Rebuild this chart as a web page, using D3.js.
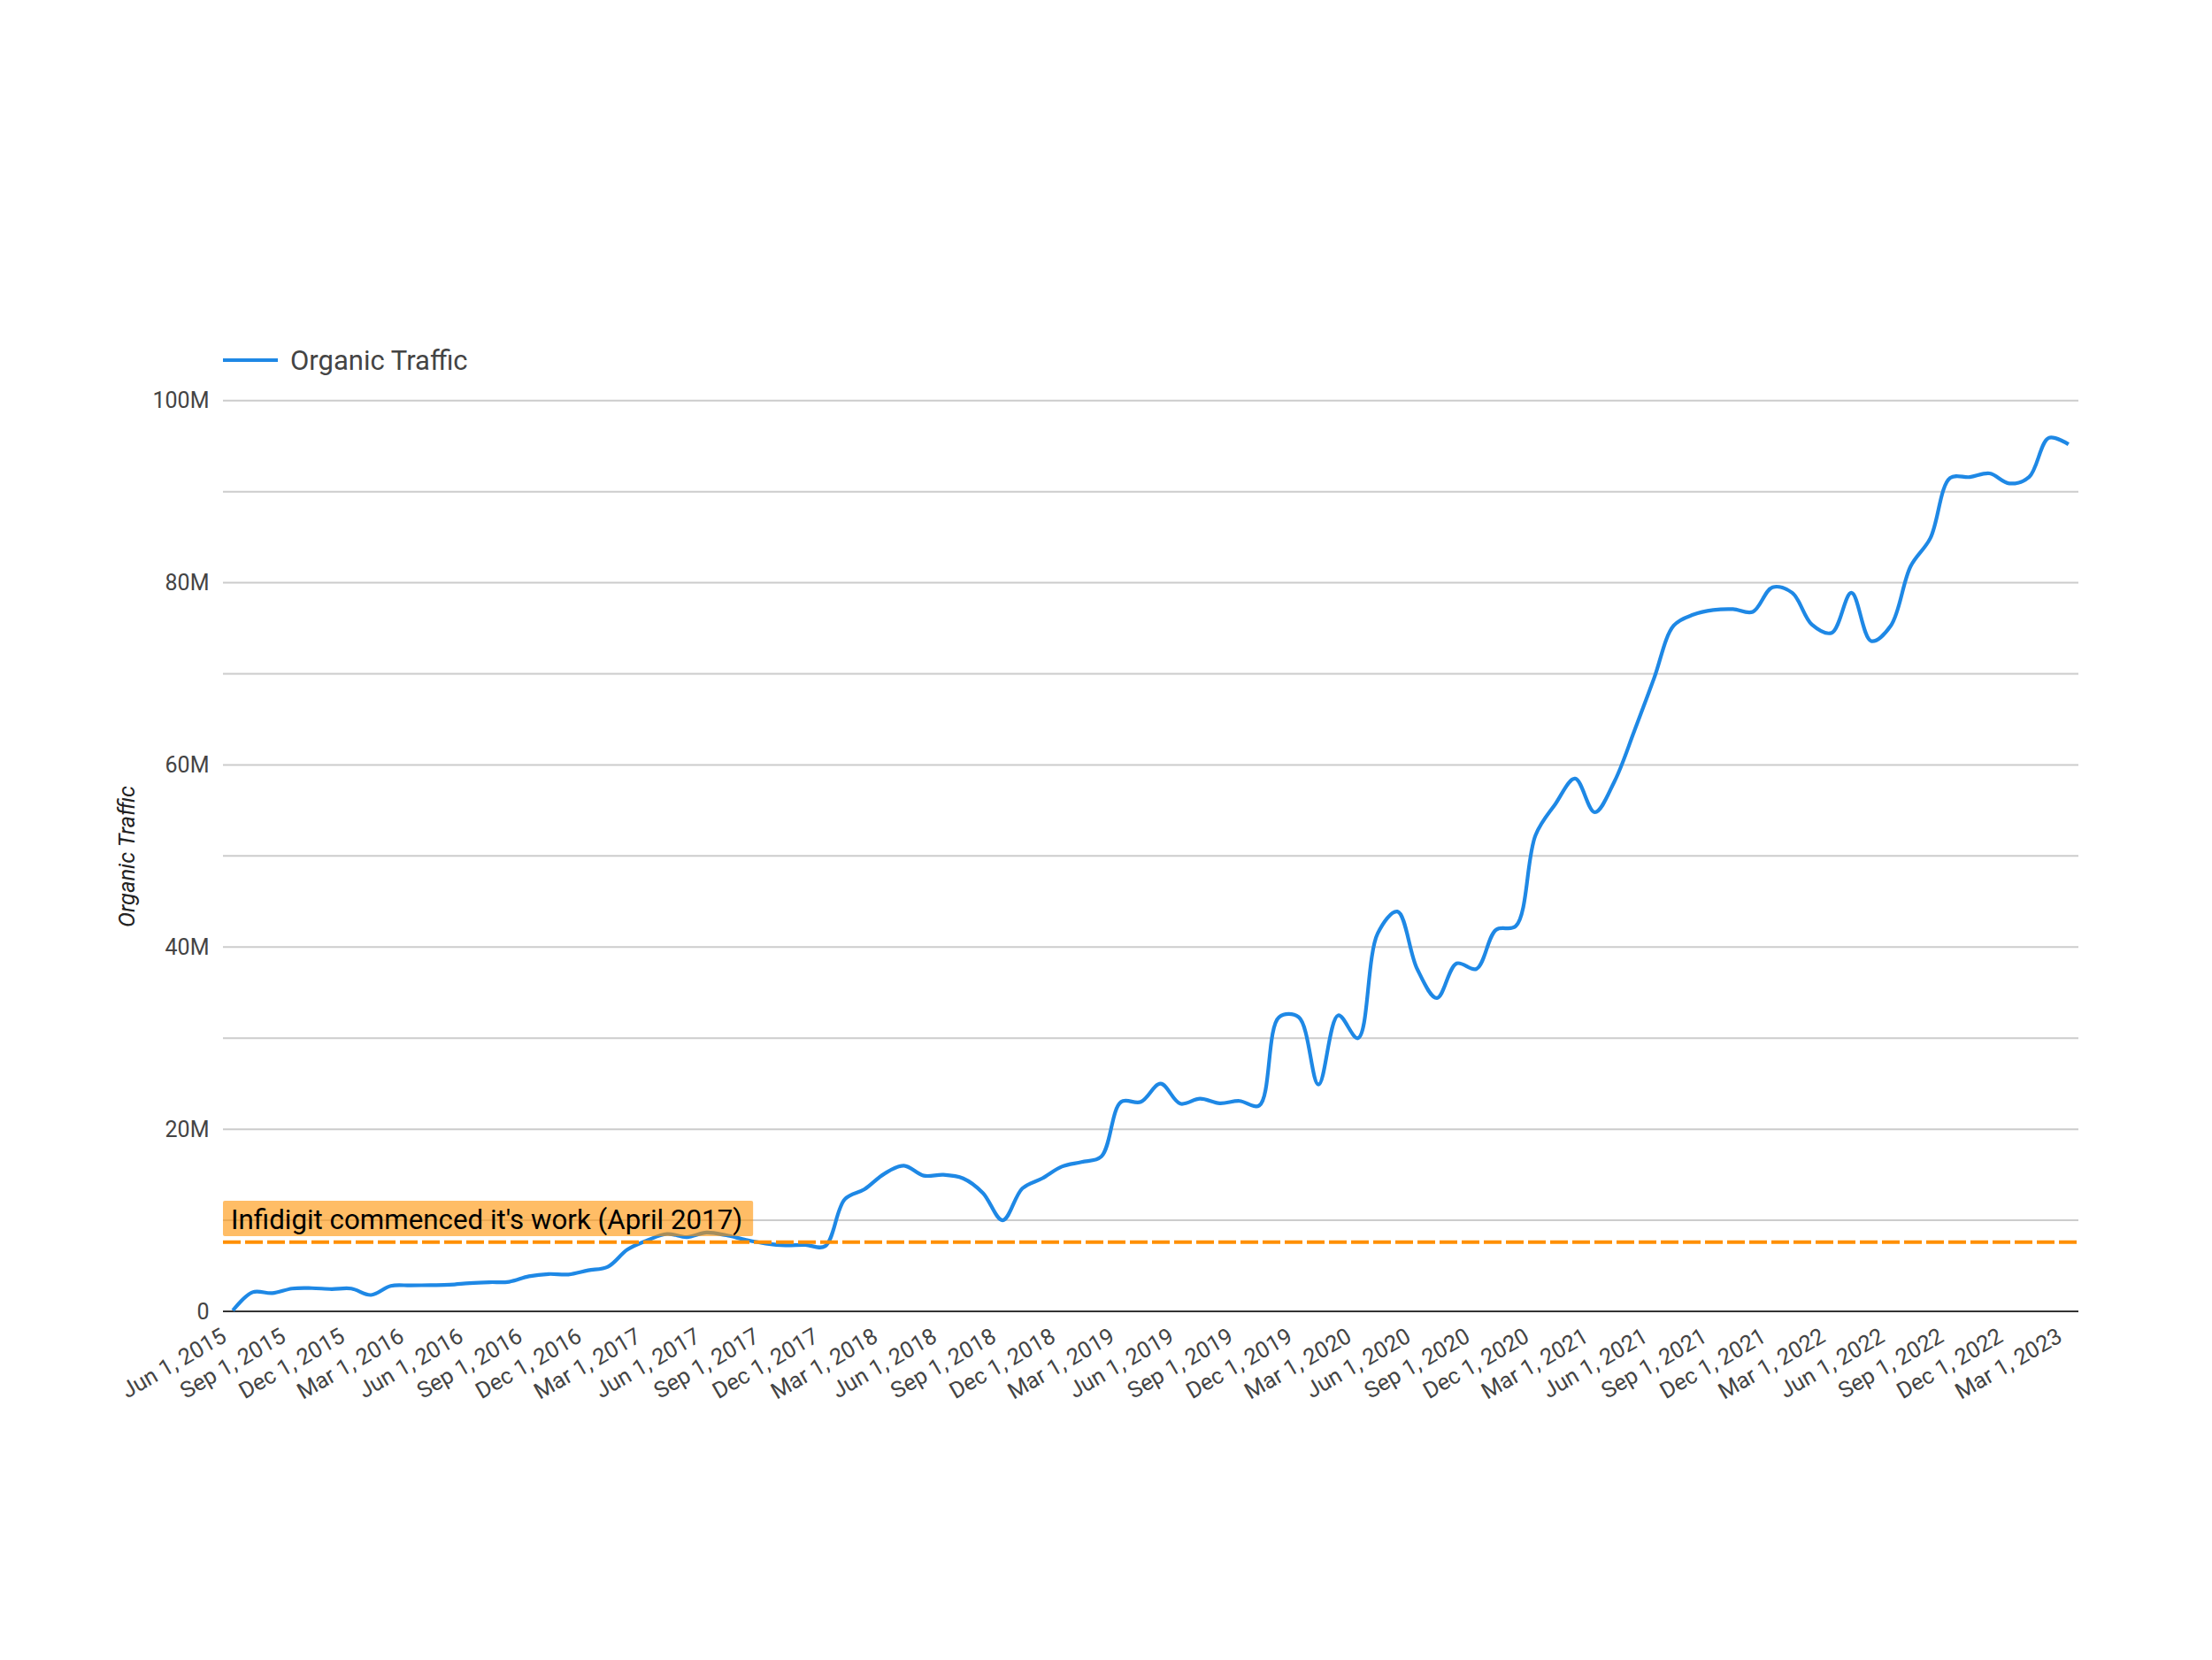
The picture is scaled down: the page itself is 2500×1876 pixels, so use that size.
<!DOCTYPE html>
<html>
<head>
<meta charset="utf-8">
<script src="https://cdn.jsdelivr.net/npm/d3@7"></script>
<style>
  html, body { margin: 0; padding: 0; background: #fff; }
  svg { display: block; }
  text { font-family: Roboto, "Noto Sans", sans-serif; }
</style>
</head>
<body>
<svg id="chart" width="2500" height="1876"></svg>
<script>
// ---------- data ----------
const seriesName = "Organic Traffic";
const startMonth = new Date(2015, 5, 1);   // Jun 1, 2015
const endMonth = new Date(2023, 2, 1);     // Mar 1, 2023
const months = d3.timeMonth.range(startMonth, d3.timeMonth.offset(endMonth, 1));
// monthly organic traffic, in millions
const trafficM = [
  0.1, 2.1, 2.0, 2.5, 2.55, 2.45, 2.5, 1.8, 2.8, 2.85,
  2.88, 2.92, 3.1, 3.2, 3.25, 3.85, 4.1, 4.05, 4.5, 4.9,
  6.8, 7.8, 8.5, 8.15, 8.65, 8.35, 7.85, 7.45, 7.25, 7.3,
  7.15, 12.3, 13.4, 15.1, 16.0, 14.9, 15.0, 14.6, 13.0, 10.0,
  13.5, 14.6, 15.9, 16.4, 17.0, 23.0, 23.0, 25.0, 22.8, 23.35,
  22.85, 23.1, 22.6, 32.3, 32.3, 24.9, 32.5, 30.0, 41.5, 43.9,
  37.6, 34.4, 38.2, 37.6, 41.9, 42.3, 52.3, 55.7, 58.5, 54.8,
  58.2, 63.7, 69.5, 75.3, 76.5, 77.0, 77.1, 76.8, 79.5, 78.9,
  75.4, 74.5, 78.9, 73.6, 75.3, 81.8, 84.9, 91.5, 91.6, 92.0,
  90.9, 91.6, 95.9, 95.2
];
const yTickValues = [0, 20, 40, 60, 80, 100];
const yTickLabels = ["0", "20M", "40M", "60M", "80M", "100M"];
const gridValues = [10, 20, 30, 40, 50, 60, 70, 80, 90, 100];
const annotationValue = 7.6;
const annotationText = "Infidigit commenced it's work (April 2017)";
const yAxisTitle = "Organic Traffic";
const xTickEvery = 3;

// ---------- layout ----------
const plot = { left: 252, right: 2349, top: 452.7, bottom: 1482 };
const svg = d3.select("#chart");
svg.append("rect").attr("width", 2500).attr("height", 1876).attr("fill", "#fff");

const fmt = d3.timeFormat("%b %-d, %Y");
const x = d3.scalePoint()
  .domain(months.map(d => +d))
  .range([plot.left, plot.right])
  .padding(0.5);
const y = d3.scaleLinear().domain([0, 100]).range([plot.bottom, plot.top]);

// gridlines
svg.append("g").selectAll("line").data(gridValues).join("line")
  .attr("x1", plot.left).attr("x2", plot.right)
  .attr("y1", d => y(d)).attr("y2", d => y(d))
  .attr("stroke", "#cccccc").attr("stroke-width", 2);

// y axis labels
const yAxis = d3.axisLeft(y).tickValues(yTickValues)
  .tickFormat((d, i) => yTickLabels[i]).tickSize(0).tickPadding(0);
const gy = svg.append("g").attr("transform", `translate(${236.5},0)`).call(yAxis);
gy.select(".domain").remove();
gy.selectAll("text").attr("font-size", 25).attr("fill", "#444")
  .style("font-family", "Roboto, sans-serif");

// baseline (zero)
svg.append("line")
  .attr("x1", plot.left).attr("x2", plot.right)
  .attr("y1", y(0)).attr("y2", y(0))
  .attr("stroke", "#333").attr("stroke-width", 2.2);

// x axis labels
const xTicks = months.filter((d, i) => i % xTickEvery === 0).map(d => +d);
const xAxis = d3.axisBottom(x).tickValues(xTicks)
  .tickFormat(d => fmt(new Date(d))).tickSize(0).tickPadding(0);
const gx = svg.append("g").attr("transform", `translate(0,${plot.bottom})`).call(xAxis);
gx.select(".domain").remove();
gx.selectAll("text")
  .attr("font-size", 25.5).attr("fill", "#444")
  .style("font-family", "Roboto, sans-serif")
  .attr("text-anchor", "end")
  .attr("dy", null).attr("y", null)
  .attr("transform", "translate(-6,33) rotate(-30)");

// line
const line = d3.line()
  .x((d, i) => x(+months[i]))
  .y(d => y(d))
  .curve(d3.curveCatmullRom.alpha(0.5));
svg.append("path").datum(trafficM)
  .attr("d", line)
  .attr("fill", "none")
  .attr("stroke", "#1e88e5")
  .attr("stroke-width", 4.2)
  .attr("stroke-linejoin", "round");

// annotation dashed line
svg.append("line")
  .attr("x1", plot.left).attr("x2", plot.right)
  .attr("y1", y(annotationValue)).attr("y2", y(annotationValue))
  .attr("stroke", "#ff8f00").attr("stroke-width", 4)
  .attr("stroke-dasharray", "20,5");

// annotation label
const ann = svg.append("g");
const annBox = ann.append("rect");
const annText = ann.append("text")
  .attr("x", 261).attr("y", 1389)
  .attr("font-size", 31.3).attr("fill", "#000")
  .text(annotationText);
const tw = annText.node().getComputedTextLength();
annBox.attr("x", plot.left).attr("y", 1357)
  .attr("width", tw + 21).attr("height", 40)
  .attr("rx", 2)
  .attr("fill", "#ff9100").attr("fill-opacity", 0.6);

// legend
svg.append("line").attr("x1", 252).attr("x2", 314).attr("y1", 407).attr("y2", 407)
  .attr("stroke", "#1e88e5").attr("stroke-width", 4);
svg.append("text").attr("x", 328).attr("y", 418)
  .attr("font-size", 31).attr("fill", "#444").text(seriesName);

// y axis title
svg.append("text")
  .attr("transform", "translate(152,968) rotate(-90)")
  .attr("text-anchor", "middle")
  .attr("font-size", 25.5).attr("font-style", "italic").attr("fill", "#222")
  .text(yAxisTitle);
</script>
</body>
</html>
